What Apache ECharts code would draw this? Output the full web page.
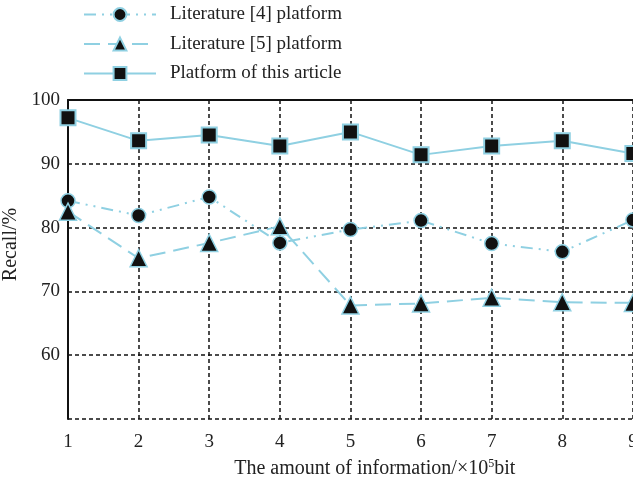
<!DOCTYPE html>
<html>
<head>
<meta charset="utf-8">
<script src="https://cdn.jsdelivr.net/npm/echarts@6/dist/echarts.min.js"></script>
<style>
  html, body { margin: 0; padding: 0; background: #fff; }
  #chart { width: 633px; height: 482px; }
</style>
</head>
<body>
<div id="chart"></div>
<script>
// 数据
var xValues = [1, 2, 3, 4, 5, 6, 7, 8, 9];
var lit4 = [84.2, 81.9, 84.8, 77.6, 79.7, 81.1, 77.5, 76.2, 81.2];
var lit5 = [82.5, 75.2, 77.6, 80.2, 67.8, 68.1, 69.0, 68.3, 68.2];
var ours = [97.2, 93.6, 94.5, 92.8, 95.0, 91.4, 92.8, 93.6, 91.6];
var seriesNames = ['Literature [4] platform', 'Literature [5] platform', 'Platform of this article'];

function pairs(arr) {
  return arr.map(function (v, i) { return [xValues[i], v]; });
}

var blue = '#8fd0e2';
var serif = '"Liberation Serif", "DejaVu Serif", serif';

var chart = echarts.init(document.getElementById('chart'));

var gridLine = { show: true, lineStyle: { color: '#111', width: 1.5, type: [4, 3] } };

var option = {
  backgroundColor: '#fff',
  animation: false,
  legend: {
    orient: 'vertical',
    left: 78,
    top: 0,
    itemWidth: 72,
    itemHeight: 16,
    itemGap: 10.5,
    textStyle: { fontFamily: serif, fontSize: 19, color: '#222', padding: [0, 0, 0, 9] },
    data: seriesNames
  },
  grid: { left: 68, top: 100, bottom: 63, right: -70.5, outerBoundsMode: 'none' },
  xAxis: [{
    type: 'value',
    min: 1, max: 10, interval: 1,
    name: 'The amount of information/×10{sup|5}bit',
    nameLocation: 'middle',
    nameGap: 39,
    nameTextStyle: {
      fontFamily: serif, fontSize: 20, color: '#222', padding: [0, 22, 0, 0],
      rich: { sup: { fontFamily: serif, fontSize: 12, verticalAlign: 'top', padding: [0, 0, 9, 0], color: '#222' } }
    },
    axisLine: { show: false },
    axisTick: { show: false },
    axisLabel: { fontFamily: serif, fontSize: 19, color: '#222', margin: 14 },
    splitLine: gridLine
  }, {
    type: 'value',
    position: 'top',
    min: 1, max: 10, interval: 1,
    axisLine: { show: true, onZero: false, lineStyle: { color: '#111', width: 2 } },
    axisTick: { show: false },
    axisLabel: { show: false },
    splitLine: { show: false }
  }],
  yAxis: {
    type: 'value',
    min: 50, max: 100, interval: 10,
    name: 'Recall/%',
    nameLocation: 'middle',
    nameGap: 47,
    nameTextStyle: { fontFamily: serif, fontSize: 20, color: '#222', padding: [0, 0, 0, 30] },
    axisLine: { show: true, lineStyle: { color: '#111', width: 2 } },
    axisTick: { show: false },
    axisLabel: {
      fontFamily: serif, fontSize: 19, color: '#222', margin: 8,
      formatter: function (v) { return v === 50 ? '' : v; }
    },
    splitLine: gridLine
  },
  series: [{
    name: seriesNames[0],
    type: 'line',
    data: pairs(lit4),
    symbol: 'circle',
    symbolSize: 14,
    itemStyle: { color: '#111', borderColor: blue, borderWidth: 1.5 },
    lineStyle: { color: blue, width: 2, type: [12, 6, 2, 6, 2, 6] },
    z: 3
  }, {
    name: seriesNames[1],
    type: 'line',
    data: pairs(lit5),
    symbol: 'triangle',
    symbolSize: 17,
    itemStyle: { color: '#111', borderColor: blue, borderWidth: 1.5 },
    lineStyle: { color: blue, width: 2, type: [16, 8] },
    z: 3
  }, {
    name: seriesNames[2],
    type: 'line',
    data: pairs(ours),
    symbol: 'rect',
    symbolSize: 15,
    itemStyle: { color: '#111', borderColor: blue, borderWidth: 2 },
    lineStyle: { color: blue, width: 2 },
    z: 3
  }]
};

chart.setOption(option);
</script>
</body>
</html>
